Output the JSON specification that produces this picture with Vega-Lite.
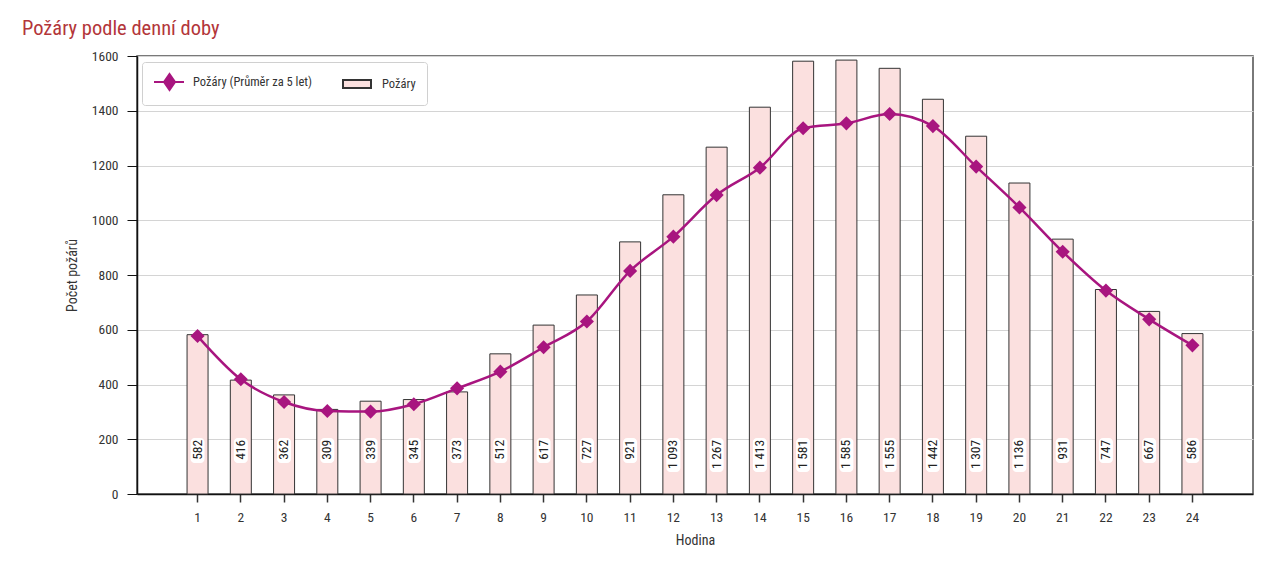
{
  "$schema": "https://vega.github.io/schema/vega-lite/v6.json",
  "width": 1116,
  "height": 438,
  "autosize": {"type": "none"},
  "padding": {"left": 137, "top": 56, "right": 31, "bottom": 82},
  "background": "white",
  "title": {
    "text": "Požáry podle denní doby",
    "anchor": "start",
    "frame": "group",
    "dx": -115,
    "offset": 10,
    "fontSize": 20.5,
    "fontWeight": "normal",
    "color": "#b3363a",
    "font": "Roboto Condensed, Liberation Sans Narrow, Roboto, sans-serif"
  },
  "config": {
    "locale": {"number": {"decimal": ",", "thousands": "\u2009", "grouping": [3], "currency": ["", " Kč"]}},
    "font": "Roboto Condensed, Liberation Sans Narrow, Roboto, sans-serif",
    "view": {"stroke": "#4d4d4d", "strokeWidth": 1.5},
    "axis": {"labelFont": "Roboto Condensed, Liberation Sans Narrow, Roboto, sans-serif", "titleFont": "Roboto Condensed, Liberation Sans Narrow, Roboto, sans-serif", "labelColor": "#333", "titleColor": "#333", "labelFontSize": 13.5, "titleFontSize": 14, "titleFontWeight": "normal"},
    "legend": {"labelFont": "Roboto Condensed, Liberation Sans Narrow, Roboto, sans-serif"}
  },
  "data": {
    "values": [
      {"hodina": 1, "pozary": 582, "prumer": 577},
      {"hodina": 2, "pozary": 416, "prumer": 419},
      {"hodina": 3, "pozary": 362, "prumer": 336},
      {"hodina": 4, "pozary": 309, "prumer": 303},
      {"hodina": 5, "pozary": 339, "prumer": 301},
      {"hodina": 6, "pozary": 345, "prumer": 328},
      {"hodina": 7, "pozary": 373, "prumer": 386},
      {"hodina": 8, "pozary": 512, "prumer": 447},
      {"hodina": 9, "pozary": 617, "prumer": 536},
      {"hodina": 10, "pozary": 727, "prumer": 630},
      {"hodina": 11, "pozary": 921, "prumer": 815},
      {"hodina": 12, "pozary": 1093, "prumer": 940},
      {"hodina": 13, "pozary": 1267, "prumer": 1092},
      {"hodina": 14, "pozary": 1413, "prumer": 1192},
      {"hodina": 15, "pozary": 1581, "prumer": 1336},
      {"hodina": 16, "pozary": 1585, "prumer": 1354},
      {"hodina": 17, "pozary": 1555, "prumer": 1388},
      {"hodina": 18, "pozary": 1442, "prumer": 1344},
      {"hodina": 19, "pozary": 1307, "prumer": 1196},
      {"hodina": 20, "pozary": 1136, "prumer": 1047},
      {"hodina": 21, "pozary": 931, "prumer": 885},
      {"hodina": 22, "pozary": 747, "prumer": 743},
      {"hodina": 23, "pozary": 667, "prumer": 638},
      {"hodina": 24, "pozary": 586, "prumer": 543}
    ]
  },
  "encoding": {
    "x": {
      "field": "hodina",
      "type": "ordinal",
      "scale": {"paddingInner": 0.2, "paddingOuter": 1},
      "axis": {
        "title": "Hodina",
        "labelAngle": 0,
        "domainColor": "#111",
        "domainWidth": 1.5,
        "tickColor": "#333",
        "tickSize": 8,
        "tickWidth": 1.5,
        "labelPadding": 8,
        "titlePadding": 10
      }
    }
  },
  "layer": [
    {
      "mark": {"type": "bar", "width": 21, "stroke": "#333", "strokeWidth": 1},
      "encoding": {
        "y": {
          "field": "pozary",
          "type": "quantitative",
          "scale": {"domain": [0, 1600], "nice": false},
          "axis": {
            "title": "Počet požárů",
            "values": [0, 200, 400, 600, 800, 1000, 1200, 1400, 1600],
            "format": "d",
            "grid": true,
            "gridColor": "#d4d4d4",
            "gridWidth": 1,
            "domainColor": "#111",
            "domainWidth": 1.5,
            "tickColor": "#111",
            "tickSize": 10,
            "tickWidth": 1,
            "labelPadding": 9,
            "titlePadding": 12
          }
        },
        "fill": {
          "datum": "Požáry",
          "type": "nominal",
          "scale": {"domain": ["Požáry (Průměr za 5 let)", "Požáry"], "range": ["#a8157f", "#fbe0df"]},
          "legend": {
            "title": null, "orient": "none", "legendX": 5, "legendY": 6, "direction": "horizontal",
            "strokeColor": "#d0d0d0", "cornerRadius": 3, "fillColor": "white", "padding": 11,
            "columnPadding": 27, "labelOffset": 22, "labelFontSize": 12.5, "labelColor": "#333", "labelLimit": 300,
            "symbolSize": 256, "symbolStrokeWidth": 2, "symbolOpacity": 1
          }
        }
      }
    },
    {
      "transform": [{"filter": "datum.pozary < 1000"}],
      "mark": {"type": "bar", "width": 14, "cornerRadius": 4, "fill": "white"},
      "encoding": {
        "y": {"datum": 113, "type": "quantitative"},
        "y2": {"datum": 205}
      }
    },
    {
      "transform": [{"filter": "datum.pozary >= 1000"}],
      "mark": {"type": "bar", "width": 14, "cornerRadius": 4, "fill": "white"},
      "encoding": {
        "y": {"datum": 80, "type": "quantitative"},
        "y2": {"datum": 205}
      }
    },
    {
      "mark": {"type": "text", "angle": 270, "align": "right", "baseline": "middle", "fontSize": 13.5, "color": "#222"},
      "encoding": {
        "y": {"datum": 198, "type": "quantitative"},
        "text": {"field": "pozary", "type": "quantitative", "format": ",d"}
      }
    },
    {
      "mark": {"type": "line", "interpolate": "monotone", "strokeWidth": 2.5},
      "encoding": {
        "y": {"field": "prumer", "type": "quantitative"},
        "stroke": {
          "datum": "Požáry (Průměr za 5 let)",
          "type": "nominal",
          "scale": {"domain": ["Požáry (Průměr za 5 let)", "Požáry"], "range": ["#a8157f", "#333333"]},
          "legend": {
            "title": null, "orient": "none", "legendX": 5, "legendY": 6, "direction": "horizontal",
            "strokeColor": "#d0d0d0", "cornerRadius": 3, "fillColor": "white", "padding": 11,
            "columnPadding": 27, "labelOffset": 22, "labelFontSize": 12.5, "labelColor": "#333", "labelLimit": 300,
            "symbolSize": 256, "symbolStrokeWidth": 2, "symbolOpacity": 1
          }
        }
      }
    },
    {
      "mark": {"type": "point", "shape": "diamond", "size": 200, "filled": true, "color": "#a8157f", "opacity": 1},
      "encoding": {
        "y": {"field": "prumer", "type": "quantitative"}
      }
    },
    {
      "mark": {"type": "point", "clip": true, "filled": true, "opacity": 1},
      "encoding": {
        "y": {"datum": -500, "type": "quantitative"},
        "shape": {
          "datum": "Požáry (Průměr za 5 let)",
          "type": "nominal",
          "scale": {"domain": ["Požáry (Průměr za 5 let)", "Požáry"], "range": ["M-1,0L2.75,0M0.94,-1L1.63,0L0.94,1L0.25,0Z", "M-1,-0.5L2.5,-0.5L2.5,0.5L-1,0.5Z"]},
          "legend": {
            "title": null, "orient": "none", "legendX": 5, "legendY": 6, "direction": "horizontal",
            "strokeColor": "#d0d0d0", "cornerRadius": 3, "fillColor": "white", "padding": 11,
            "columnPadding": 27, "labelOffset": 22, "labelFontSize": 12.5, "labelColor": "#333", "labelLimit": 300,
            "symbolSize": 256, "symbolStrokeWidth": 2, "symbolOpacity": 1
          }
        }
      }
    }
  ]
}
